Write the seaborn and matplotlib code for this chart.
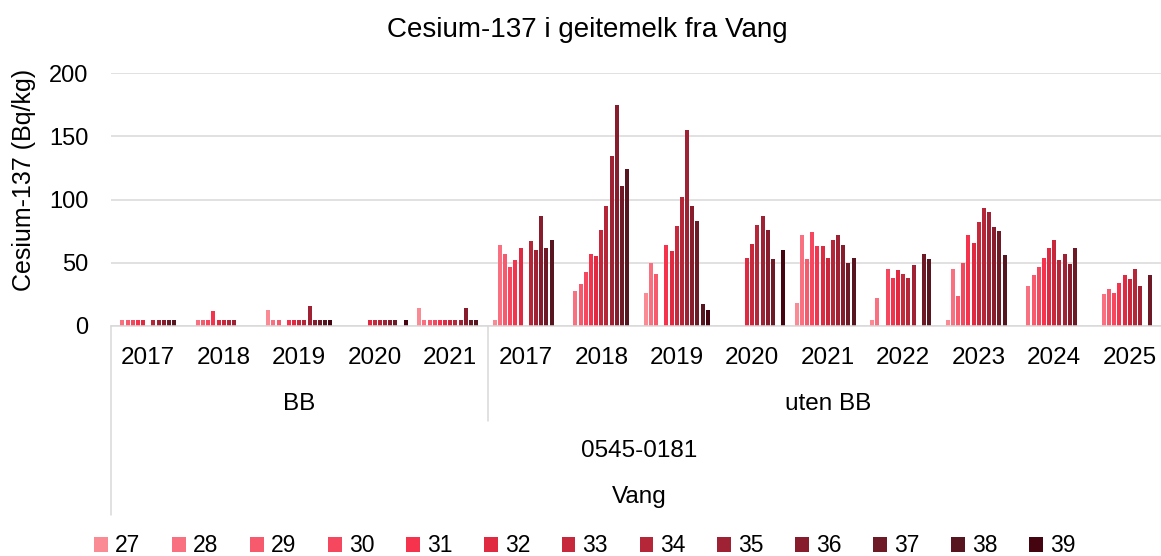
import pandas as pd
import seaborn as sns
import matplotlib.pyplot as plt

# weeks (series) and their colours
weeks = [27, 28, 29, 30, 31, 32, 33, 34, 35, 36, 37, 38, 39]
week_colors = ['#fa8a94', '#f97080', '#f85a6d', '#f5475e', '#f5334d', '#e02a42',
               '#c8283c', '#b42638', '#9e2233', '#861c2c', '#6e1a26', '#571520', '#440410']

groups = ['BB'] * 5 + ['uten BB'] * 9
years = [2017, 2018, 2019, 2020, 2021,
         2017, 2018, 2019, 2020, 2021, 2022, 2023, 2024, 2025]

# Bq/kg per week 27..39, None = no sample
bb_2017 = [None, 5, 5, 5, 5, 5, None, 5, 5, 5, 5, 5, None]
bb_2018 = [None, 5, 5, 5, 12, 5, 5, 5, 5, None, None, None, None]
bb_2019 = [13, 5, 5, None, 5, 5, 5, 5, 16, 5, 5, 5, 5]
bb_2020 = [None, None, None, None, None, 5, 5, 5, 5, 5, 5, None, 5]
bb_2021 = [14, 5, 5, 5, 5, 5, 5, 5, 5, 14, 5, 5, None]
uten_2017 = [5, 64, 57, 47, 52, 62, None, 67, 60, 87, 62, 68, None]
uten_2018 = [None, 28, 33, 43, 57, 55, 76, 95, 134, 175, 111, 124, None]
uten_2019 = [26, 50, 41, None, 64, 59, 79, 102, 155, 95, 83, 17, 13]
uten_2020 = [None, None, None, None, None, 54, 65, 80, 87, 76, 53, None, 60]
uten_2021 = [18, 72, 53, 74, 63, 63, 54, 68, 72, 64, 50, 54, None]
uten_2022 = [5, 22, None, 45, 38, 44, 41, 38, 48, None, 57, 53, None]
uten_2023 = [5, 45, 24, 50, 72, 66, 82, 93, 90, 78, 75, 56, None]
uten_2024 = [None, 32, 40, 47, 54, 62, 68, 52, 57, 49, 62, None, None]
uten_2025 = [None, 25, 29, 26, 34, 40, 37, 45, 32, None, 40, None, None]

all_vals = [bb_2017, bb_2018, bb_2019, bb_2020, bb_2021,
            uten_2017, uten_2018, uten_2019, uten_2020, uten_2021,
            uten_2022, uten_2023, uten_2024, uten_2025]

rows = []
for g, yr, vals in zip(groups, years, all_vals):
    for w, v in zip(weeks, vals):
        if v is not None:
            rows.append({'cat': f'{g} {yr}', 'week': str(w), 'cs': v})
df = pd.DataFrame(rows)
order = [f'{g} {yr}' for g, yr in zip(groups, years)]

sns.set_theme(style='white')
plt.rcParams['font.family'] = ['Liberation Sans', 'DejaVu Sans']
plt.rcParams['text.color'] = 'black'
plt.rcParams['axes.labelcolor'] = 'black'

W, H = 1161, 556
fig = plt.figure(figsize=(W / 100, H / 100), dpi=100)
ax = fig.add_axes([110.5 / W, 1 - 326 / H, 1057 / W, 253 / H])

sns.barplot(data=df, x='cat', y='cs', hue='week', order=order,
            hue_order=[str(w) for w in weeks], palette=week_colors,
            errorbar=None, width=0.89, gap=0.2, saturation=1, linewidth=0, ax=ax)

ax.set_xlim(-0.5, 13.5)
ax.set_ylim(0, 200)
ax.set_yticks(range(0, 201, 50))
ax.grid(axis='y', color='#d9d9d9', lw=1.1)
ax.set_axisbelow(True)
for s in ['left', 'right', 'top']:
    ax.spines[s].set_visible(False)
ax.spines['bottom'].set_color('#d9d9d9')
ax.spines['bottom'].set_linewidth(1.1)

ax.set_xticks(range(len(years)))
ax.set_xticklabels([str(y) for y in years])
ax.tick_params(axis='x', length=0, pad=15, labelsize=17.5, colors='black')
ax.tick_params(axis='y', length=0, pad=16, labelsize=17, colors='black')
ax.set_xlabel('')
ax.set_ylabel('Cesium-137 (Bq/kg)', fontsize=18)
ax.yaxis.set_label_coords((36 - 110.5) / 1057, (326 - 180) / 253)

# multi-level category labels
tr = ax.get_xaxis_transform()
for xpos, ypix, txt in [(2, 404, 'BB'), (9, 404, 'uten BB'),
                        (6.5, 451, '0545-0181'), (6.5, 497, 'Vang')]:
    ax.text(xpos, (326 - ypix) / 253, txt, transform=tr, ha='center', va='center', fontsize=17.5)
ax.plot([-0.5, -0.5], [0, (326 - 515) / 253], transform=tr, color='#d9d9d9', lw=1.1, clip_on=False)
ax.plot([4.5, 4.5], [0, (326 - 421) / 253], transform=tr, color='#d9d9d9', lw=1.1, clip_on=False)

sns.move_legend(ax, 'center', bbox_to_anchor=((585 - 110.5) / 1057, (326 - 546) / 253),
                ncol=13, frameon=False, title=None, fontsize=16.5,
                handlelength=0.6, handleheight=0.6, handletextpad=0.31, columnspacing=1.38)

fig.text(587 / W, 1 - 30 / H, 'Cesium-137 i geitemelk fra Vang', ha='center', va='center', fontsize=20)

fig.savefig('out.png', dpi=100)
